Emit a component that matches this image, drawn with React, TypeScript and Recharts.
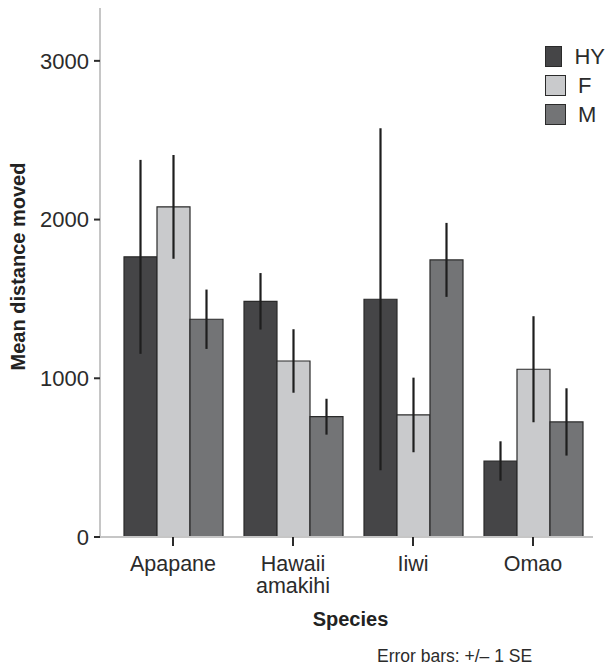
import React from "react"
import { BarChart, Bar, XAxis, YAxis, ErrorBar, Legend } from "recharts"

const species = ["Apapane", "Hawaii amakihi", "Iiwi", "Omao"]
const hyMean = [1765, 1485, 1498, 479]
const hySE = [611, 178, 1077, 124]
const fMean = [2080, 1109, 769, 1057]
const fSE = [327, 200, 235, 334]
const mMean = [1372, 758, 1746, 725]
const mSE = [187, 113, 233, 212]
const yTicks = [0, 1000, 2000, 3000]

const series = [
  { key: "hy", err: "hyErr", name: "HY", color: "#454547" },
  { key: "f", err: "fErr", name: "F", color: "#c9cacc" },
  { key: "m", err: "mErr", name: "M", color: "#737476" },
]

const data = species.map((s, i) => ({
  species: s,
  hy: hyMean[i],
  hyErr: hySE[i],
  f: fMean[i],
  fErr: fSE[i],
  m: mMean[i],
  mErr: mSE[i],
}))

const font = "'Liberation Sans', Arial, sans-serif"

function SpeciesTick(props: any) {
  const { x, y, payload } = props
  const lines = String(payload.value).split(" ")
  return (
    <text x={x} y={y} textAnchor="middle" fill="#2b2b2b" fontSize={21.5} fontFamily={font}>
      {lines.map((l, i) => (
        <tspan key={i} x={x} dy={i === 0 ? 25 : 22}>
          {l}
        </tspan>
      ))}
    </text>
  )
}

function LegendBox() {
  return (
    <div style={{ fontFamily: font, fontSize: 22, color: "#2b2b2b" }}>
      {series.map((s) => (
        <div key={s.key} style={{ display: "flex", alignItems: "center", height: 29 }}>
          <div
            style={{
              width: 19,
              height: 19,
              background: s.color,
              border: "1.5px solid #2a2a2a",
              marginRight: 12,
            }}
          />
          <span style={{ lineHeight: "22px" }}>{s.name}</span>
        </div>
      ))}
    </div>
  )
}

export default function App() {
  return (
    <div style={{ width: 605, height: 667, background: "#fff" }}>
      <style>{"body{margin:0}"}</style>
      <BarChart
        width={605}
        height={667}
        data={data}
        margin={{ top: 8, right: 12, left: 0, bottom: 0 }}
        barCategoryGap={11}
        barGap={0}
      >
        <YAxis
          domain={[0, 3333]}
          ticks={yTicks}
          width={100}
          allowDataOverflow
          axisLine={{ stroke: "#c6c6c6", strokeWidth: 2 }}
          tickLine={{ stroke: "#2b2b2b", strokeWidth: 2 }}
          tickSize={6}
          tickMargin={5}
          tick={{ fill: "#2b2b2b", fontSize: 22, fontFamily: font }}
          label={({ viewBox }: any) => (
            <text
              x={18}
              y={viewBox.y + viewBox.height / 2 - 6}
              transform={`rotate(-90 18 ${viewBox.y + viewBox.height / 2 - 6})`}
              textAnchor="middle"
              dominantBaseline="central"
              fontSize={20}
              fontWeight="bold"
              fontFamily={font}
              fill="#222"
            >
              Mean distance moved
            </text>
          )}
        />
        <XAxis
          dataKey="species"
          padding={{ left: 13, right: 0 }}
          axisLine={{ stroke: "#c6c6c6", strokeWidth: 2 }}
          tickLine={{ stroke: "#2b2b2b", strokeWidth: 2 }}
          tickSize={9}
          tickMargin={0}
          height={130}
          interval={0}
          tick={<SpeciesTick />}
          label={({ viewBox }: any) => (
            <g fontFamily={font}>
              <text
                x={viewBox.x + viewBox.width / 2 + 4}
                y={viewBox.y + 89}
                textAnchor="middle"
                fontSize={20}
                fontWeight="bold"
                fill="#222"
              >
                Species
              </text>
              <text x={377} y={viewBox.y + 125} fontSize={17.5} fill="#2b2b2b">
                Error bars: +/– 1 SE
              </text>
            </g>
          )}
        />
        <Legend
          layout="vertical"
          verticalAlign="middle"
          align="center"
          content={() => <LegendBox />}
          wrapperStyle={{ position: "absolute", top: 42, left: 545, width: 60, height: 90 }}
        />
        {series.map((s) => (
          <Bar
            key={s.key}
            dataKey={s.key}
            name={s.name}
            fill={s.color}
            stroke="#2a2a2a"
            strokeWidth={1.2}
            isAnimationActive={false}
          >
            <ErrorBar dataKey={s.err} width={0} stroke="#1e1e1e" strokeWidth={2.2} direction="y" isAnimationActive={false} />
          </Bar>
        ))}
      </BarChart>
    </div>
  )
}
